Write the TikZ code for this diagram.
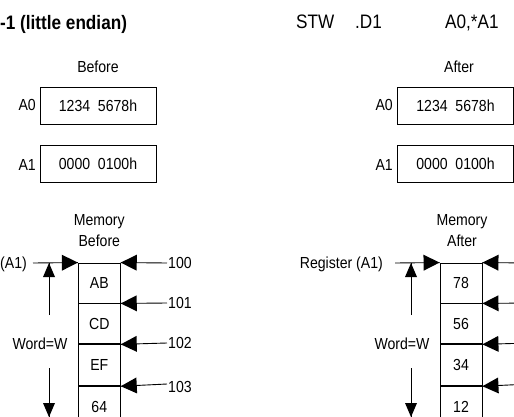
\documentclass[tikz,border=0pt]{standalone}
\usepackage{fontspec}
\setmainfont{Liberation Sans}[FakeStretch=0.88]
\usetikzlibrary{decorations.markings}
\begin{document}
\begin{tikzpicture}[x=1pt,y=-1pt,
  txt/.style={inner sep=0pt,font=\fontsize{16}{18}\selectfont},
  big/.style={inner sep=0pt,font=\fontsize{19.5}{22}\selectfont},
  regbox/.style={draw,line width=0.9pt,minimum width=116pt,minimum height=37pt,inner sep=0pt,font=\fontsize{16}{18}\selectfont},
  cell/.style={draw,line width=0.9pt,minimum width=42pt,inner sep=0pt,font=\fontsize{16}{18}\selectfont},
  harrow/.style={line width=0.9pt,postaction={decorate},decoration={markings,
     mark=at position 1 with {\fill (0pt,0pt) -- (-16pt,8pt) -- (-16pt,-8pt) -- cycle;}}},
  varrow/.style={line width=0.9pt,postaction={decorate},decoration={markings,
     mark=at position 1 with {\fill (0pt,0pt) -- (-14pt,6pt) -- (-14pt,-6pt) -- cycle;}}},
]
\useasboundingbox (0,0) rectangle (514,417);

% titles
\node[big,anchor=base west,font=\bfseries\fontsize{19.5}{22}\selectfont] (title) at (0,30) {-1 (little endian)};
\node[big,anchor=base west] (stw) at (296,28.5) {STW};
\node[big,anchor=base west] (d1) at (355,28.5) {.D1};
\node[big,anchor=base west] (ops) at (445,28.5) {A0,*A1};

% registers before
\node[txt,anchor=base] (before) at (98,72.5) {Before};
\node[regbox] (ba0) at (98,105.5) {1234\ \ 5678h};
\node[regbox] (ba1) at (98,164) {0000\ \ 0100h};
\node[txt,anchor=base east] (lba0) at (36,111) {A0};
\node[txt,anchor=base east] (lba1) at (36,170) {A1};

% registers after
\node[txt,anchor=base] (after) at (459,72.5) {After};
\node[regbox] (aa0) at (455.5,105.5) {1234\ \ 5678h};
\node[regbox] (aa1) at (455.5,164) {0000\ \ 0100h};
\node[txt,anchor=base east] (laa0) at (393,111) {A0};
\node[txt,anchor=base east] (laa1) at (393,170) {A1};

% memory before
\node[txt,anchor=base] (mb1) at (99.3,225.5) {Memory};
\node[txt,anchor=base] (mb2) at (99.3,246.5) {Before};
\node[cell,minimum height=40pt] (b1) at (99.3,283) {AB};
\node[cell,minimum height=40pt,anchor=north] (b2) at (b1.south) {CD};
\node[cell,minimum height=41pt,anchor=north] (b3) at (b2.south) {EF};
\node[cell,minimum height=40pt,anchor=north] (b4) at (b3.south) {64};

\node[txt,anchor=base west] (regb) at (0,268.5) {(A1)};
\coordinate (rb) at (33,263);
\draw[harrow] (rb) -- (b1.north west);
\coordinate (wbt) at (49,263);
\coordinate (wbu) at (49,315);
\coordinate (wbd) at (49,368);
\coordinate (wbb) at (49,417);
\draw[varrow] (wbu) -- (wbt);
\draw[varrow] (wbd) -- (wbb);
\node[txt,anchor=base] (wb) at (40,349.5) {Word=W};

\coordinate (p100) at (167,263);
\coordinate (p101) at (167,303);
\coordinate (p102) at (167,343);
\coordinate (p103) at (167,384);
\draw[harrow] (p100) -- (b1.north east);
\draw[harrow] (p101) -- (b1.south east);
\draw[harrow] (p102) -- (b2.south east);
\draw[harrow] (p103) -- (b3.south east);
\node[txt,anchor=base west] (l100) at (168,268.5) {100};
\node[txt,anchor=base west] (l101) at (168,308) {101};
\node[txt,anchor=base west] (l102) at (168,348) {102};
\node[txt,anchor=base west] (l103) at (168,392) {103};

% memory after
\node[txt,anchor=base] (ma1) at (462,225.5) {Memory};
\node[txt,anchor=base] (ma2) at (462,246.5) {After};
\node[cell,minimum height=40pt] (a1) at (461,283) {78};
\node[cell,minimum height=40pt,anchor=north] (a2) at (a1.south) {56};
\node[cell,minimum height=41pt,anchor=north] (a3) at (a2.south) {34};
\node[cell,minimum height=40pt,anchor=north] (a4) at (a3.south) {12};

\node[txt,anchor=base east] (rega) at (383,268.5) {Register (A1)};
\coordinate (ra) at (395,263);
\draw[harrow] (ra) -- (a1.north west);
\coordinate (wat) at (411,263);
\coordinate (wau) at (411,315);
\coordinate (wad) at (411,368);
\coordinate (wab) at (411,417);
\draw[varrow] (wau) -- (wat);
\draw[varrow] (wad) -- (wab);
\node[txt,anchor=base] (wa) at (402,349.5) {Word=W};

\coordinate (q100) at (530,263);
\coordinate (q101) at (530,303);
\coordinate (q102) at (530,343);
\coordinate (q103) at (530,384);
\draw[harrow] (q100) -- (a1.north east);
\draw[harrow] (q101) -- (a1.south east);
\draw[harrow] (q102) -- (a2.south east);
\draw[harrow] (q103) -- (a3.south east);
\end{tikzpicture}
\end{document}
